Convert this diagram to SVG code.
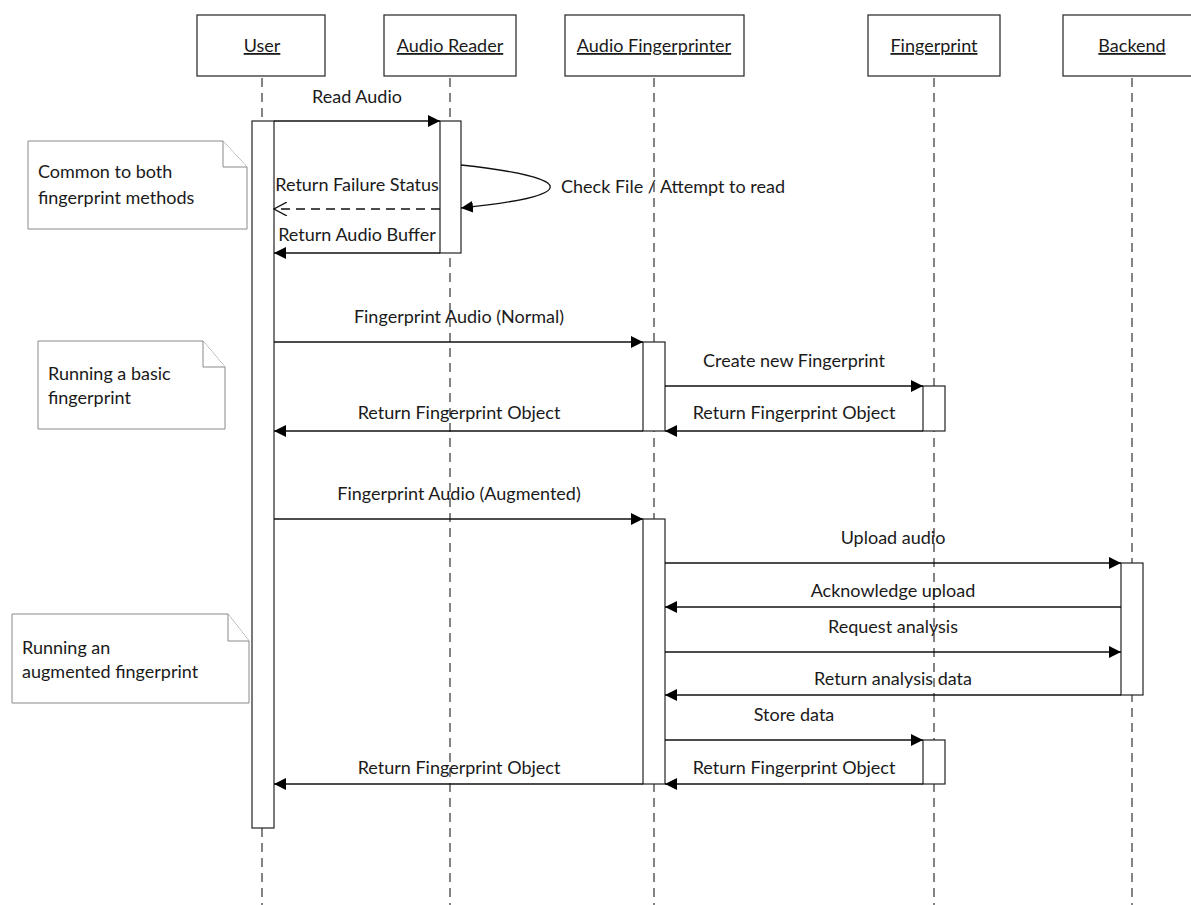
<svg xmlns="http://www.w3.org/2000/svg" width="1191" height="905" viewBox="0 0 1191 905">
<defs>
<style>
text{font-family:Lato,"Liberation Sans",sans-serif;font-size:18px;fill:#1a1a1a}
.hdr{text-anchor:middle;text-decoration:underline}
.lbl{text-anchor:middle}
.box{fill:#fff;stroke:#333;stroke-width:1.3}
.life{stroke:#333;stroke-width:1.2;stroke-dasharray:9 6;fill:none}
.act{fill:#fff;stroke:#222;stroke-width:1.2}
.note{fill:#fff;stroke:#8a8a8a;stroke-width:1}
.msg{stroke:#111;stroke-width:1.3;fill:none;marker-end:url(#fill)}
.ret{stroke:#111;stroke-width:1.3;fill:none;stroke-dasharray:9 6;marker-end:url(#open)}
</style>
<marker id="fill" viewBox="0 0 12 12" refX="12" refY="6" markerWidth="12" markerHeight="12" markerUnits="userSpaceOnUse" orient="auto">
<path d="M0,0 L12,6 L0,12 Z" fill="#000"/>
</marker>
<marker id="open" viewBox="0 0 14 14" refX="13" refY="7" markerWidth="14" markerHeight="14" markerUnits="userSpaceOnUse" orient="auto">
<path d="M0,0 L13,7 L0,14" fill="none" stroke="#111" stroke-width="1.3"/>
</marker>
</defs>
<rect width="1191" height="905" fill="#fff"/>

<g id="lifelines">
<line class="life" x1="262" y1="78" x2="262" y2="905"/>
<line class="life" x1="450" y1="78" x2="450" y2="905"/>
<line class="life" x1="654" y1="78" x2="654" y2="905"/>
<line class="life" x1="934" y1="78" x2="934" y2="905"/>
<line class="life" x1="1132" y1="78" x2="1132" y2="905"/>
</g>

<g id="user"><rect class="box" x="197" y="15" width="128" height="61"/><text class="hdr" x="262" y="52">User</text></g>
<g id="audio-reader"><rect class="box" x="384" y="15" width="132" height="61"/><text class="hdr" x="450" y="52">Audio Reader</text></g>
<g id="audio-fingerprinter"><rect class="box" x="565" y="15" width="179" height="61"/><text class="hdr" x="654" y="52">Audio Fingerprinter</text></g>
<g id="fingerprint"><rect class="box" x="868" y="15" width="132" height="61"/><text class="hdr" x="934" y="52">Fingerprint</text></g>
<g id="backend"><rect class="box" x="1063" y="15" width="139" height="61"/><text class="hdr" x="1132" y="52">Backend</text></g>

<g id="activations">
<rect class="act" x="252" y="121" width="22" height="707"/>
<rect class="act" x="440" y="121" width="21" height="132"/>
<rect class="act" x="643" y="342" width="22" height="89"/>
<rect class="act" x="923" y="386" width="22" height="45"/>
<rect class="act" x="643" y="519" width="22" height="265"/>
<rect class="act" x="1121" y="563" width="22" height="132"/>
<rect class="act" x="923" y="740" width="22" height="44"/>
</g>

<g id="note-common">
<path class="note" d="M28,141 H223 L247,167 V229 H28 Z"/>
<path class="note" d="M223,141 V167 H247"/>
<text x="38" y="178">Common to both</text>
<text x="38" y="204">fingerprint methods</text>
</g>
<g id="note-basic">
<path class="note" d="M38,341 H203 L225,367 V429 H38 Z"/>
<path class="note" d="M203,341 V367 H225"/>
<text x="48" y="380">Running a basic</text>
<text x="48" y="404">fingerprint</text>
</g>
<g id="note-augmented">
<path class="note" d="M12,614 H228 L249,641 V703 H12 Z"/>
<path class="note" d="M228,614 V641 H249"/>
<text x="22" y="654">Running an</text>
<text x="22" y="678">augmented fingerprint</text>
</g>

<g id="connectors">
<line class="msg" x1="274" y1="121" x2="440" y2="121"/>
<text class="lbl" x="357" y="103">Read Audio</text>

<path class="msg" d="M461,165 C580,178 580,196 461,208"/>
<text x="561" y="193">Check File / Attempt to read</text>

<line class="ret" x1="440" y1="209" x2="274" y2="209"/>
<text class="lbl" x="357" y="191">Return Failure Status</text>

<line class="msg" x1="440" y1="253" x2="274" y2="253"/>
<text class="lbl" x="357" y="241">Return Audio Buffer</text>

<line class="msg" x1="274" y1="342" x2="643" y2="342"/>
<text class="lbl" x="459" y="323">Fingerprint Audio (Normal)</text>

<line class="msg" x1="665" y1="386" x2="923" y2="386"/>
<text class="lbl" x="794" y="367">Create new Fingerprint</text>

<line class="msg" x1="923" y1="431" x2="665" y2="431"/>
<text class="lbl" x="794" y="419">Return Fingerprint Object</text>

<line class="msg" x1="643" y1="431" x2="274" y2="431"/>
<text class="lbl" x="459" y="419">Return Fingerprint Object</text>

<line class="msg" x1="274" y1="519" x2="643" y2="519"/>
<text class="lbl" x="459" y="500">Fingerprint Audio (Augmented)</text>

<line class="msg" x1="665" y1="563" x2="1121" y2="563"/>
<text class="lbl" x="893" y="544">Upload audio</text>

<line class="msg" x1="1121" y1="607" x2="665" y2="607"/>
<text class="lbl" x="893" y="597">Acknowledge upload</text>

<line class="msg" x1="665" y1="652" x2="1121" y2="652"/>
<text class="lbl" x="893" y="633">Request analysis</text>

<line class="msg" x1="1121" y1="695" x2="665" y2="695"/>
<text class="lbl" x="893" y="685">Return analysis data</text>

<line class="msg" x1="665" y1="740" x2="923" y2="740"/>
<text class="lbl" x="794" y="721">Store data</text>

<line class="msg" x1="923" y1="784" x2="665" y2="784"/>
<text class="lbl" x="794" y="774">Return Fingerprint Object</text>

<line class="msg" x1="643" y1="784" x2="274" y2="784"/>
<text class="lbl" x="459" y="774">Return Fingerprint Object</text>
</g>
</svg>
